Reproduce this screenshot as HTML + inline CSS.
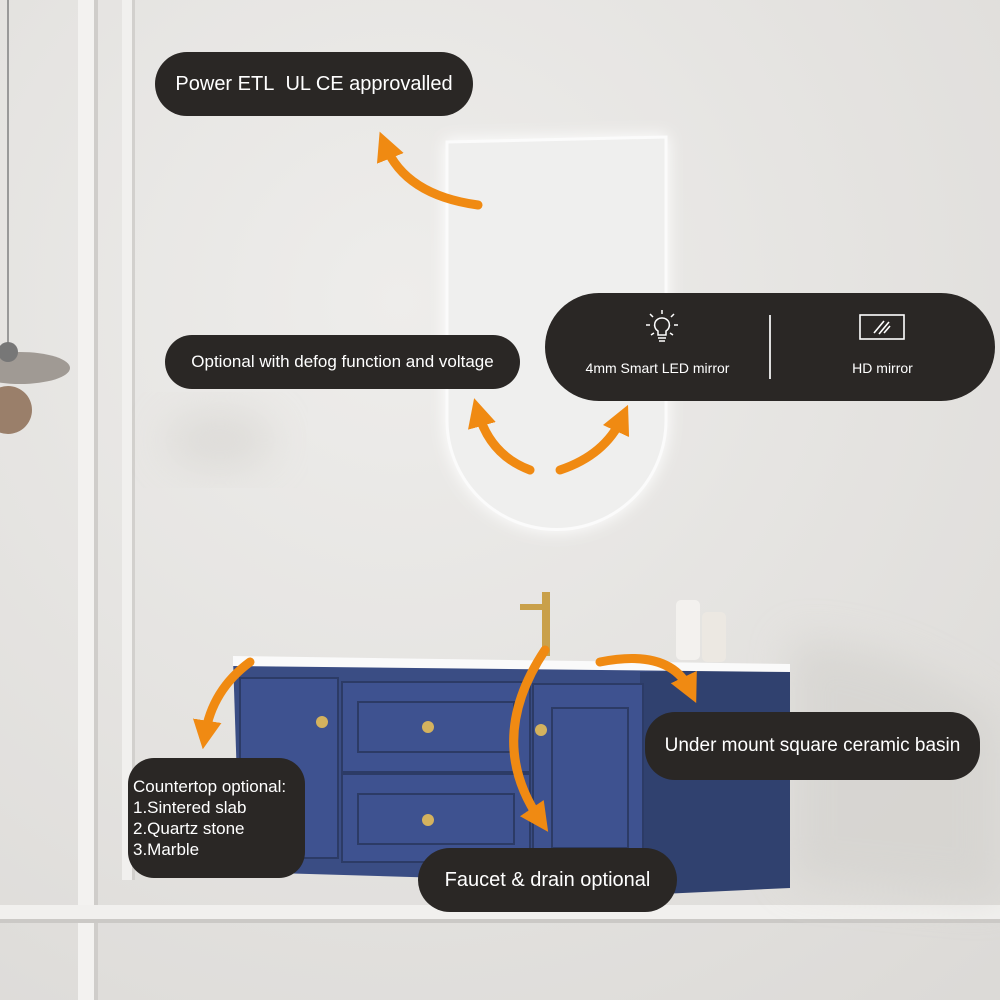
<!DOCTYPE html>
<html><head><meta charset="utf-8"><style>
html,body{margin:0;padding:0;}
body{width:1000px;height:1000px;position:relative;overflow:hidden;background:#e6e5e3;font-family:"Liberation Sans",sans-serif;}
svg{position:absolute;left:0;top:0;}
.p{position:absolute;background:#2a2725;color:#fff;display:flex;align-items:center;justify-content:center;font-family:"Liberation Sans",sans-serif;white-space:nowrap;}
</style></head><body>
<svg width="1000" height="1000" viewBox="0 0 1000 1000">
<defs>
<radialGradient id="wall" cx="0.4" cy="0.3" r="0.9"><stop offset="0" stop-color="#eeedeb"/><stop offset="1" stop-color="#dcdad7"/></radialGradient>
<filter id="glow" x="-20%" y="-20%" width="140%" height="140%"><feGaussianBlur stdDeviation="8"/></filter>
<filter id="soft" x="-30%" y="-30%" width="160%" height="160%"><feGaussianBlur stdDeviation="20"/></filter>
<marker id="ah" viewBox="0 0 10 10" refX="5" refY="5" markerWidth="3.2" markerHeight="3.2" orient="auto-start-reverse"><path d="M0,0 L10,5 L0,10 Z" fill="#f08a12"/></marker>
</defs>
<rect width="1000" height="1000" fill="url(#wall)"/>
<!-- wall moulding -->
<rect x="78" y="0" width="16" height="1000" fill="#f3f2f0"/>
<rect x="94" y="0" width="4" height="1000" fill="#cfcdca"/>
<rect x="122" y="0" width="10" height="880" fill="#f1f0ee"/>
<rect x="132" y="0" width="3" height="880" fill="#d2d0cd"/>
<rect x="0" y="905" width="1000" height="14" fill="#f1f0ee"/>
<rect x="0" y="919" width="1000" height="4" fill="#cbc9c6"/>
<!-- pendant lamp -->
<line x1="8" y1="0" x2="8" y2="345" stroke="#999" stroke-width="2"/>
<ellipse cx="20" cy="368" rx="50" ry="16" fill="#a09a94"/>
<circle cx="8" cy="410" r="24" fill="#9a7f6a"/>
<circle cx="8" cy="352" r="10" fill="#777"/>
<!-- shadows -->
<ellipse cx="220" cy="440" rx="55" ry="30" fill="#d3d0cc" opacity="0.5" filter="url(#soft)"/>
<path d="M790,640 Q900,640 1000,720 L1000,900 L790,880 Z" fill="#d2d0cc" opacity="0.6" filter="url(#soft)"/>
<!-- mirror -->
<path d="M445,140 L668,135 L668,420 A111,111 0 0 1 445,420 Z" fill="#fff" filter="url(#glow)"/>
<path d="M447,142 L666,137 L666,420 A109,109 0 0 1 447,420 Z" fill="#efefee" stroke="#fbfbfb" stroke-width="3"/>
<!-- bottles -->
<rect x="676" y="600" width="24" height="60" rx="5" fill="#f3f1ee"/>
<rect x="702" y="612" width="24" height="50" rx="5" fill="#ece8e2"/>
<!-- faucet -->
<rect x="542" y="592" width="8" height="64" fill="#c9a04a"/>
<rect x="520" y="604" width="26" height="6" fill="#c9a04a"/>
<!-- vanity -->
<path d="M233,658 L790,668 L790,888 L240,872 Z" fill="#3a4d84"/>
<path d="M640,672 L790,668 L790,888 L640,895 Z" fill="#30416f"/>
<path d="M233,656 L790,664 L790,672 L233,666 Z" fill="#fafafa"/>
<rect x="240" y="678" width="98" height="180" fill="#3e5290" stroke="#2c3b66" stroke-width="2"/>
<rect x="342" y="682" width="188" height="90" fill="#3e5290" stroke="#2c3b66" stroke-width="2"/>
<rect x="358" y="702" width="156" height="50" fill="none" stroke="#2c3b66" stroke-width="2"/>
<rect x="342" y="774" width="188" height="88" fill="#3e5290" stroke="#2c3b66" stroke-width="2"/>
<rect x="358" y="794" width="156" height="50" fill="none" stroke="#2c3b66" stroke-width="2"/>
<rect x="533" y="684" width="110" height="180" fill="#3e5290" stroke="#2c3b66" stroke-width="2"/>
<rect x="552" y="708" width="76" height="140" fill="none" stroke="#2c3b66" stroke-width="2"/>
<circle cx="322" cy="722" r="6" fill="#d4b25e"/><circle cx="428" cy="727" r="6" fill="#d4b25e"/>
<circle cx="428" cy="820" r="6" fill="#d4b25e"/><circle cx="541" cy="730" r="6" fill="#d4b25e"/>
<!-- arrows -->
<g fill="none" stroke="#f08a12" stroke-width="9" stroke-linecap="round">
<path d="M478,205 Q405,195 385,145" marker-end="url(#ah)"/>
<path d="M530,470 Q490,455 478,412" marker-end="url(#ah)"/>
<path d="M560,470 Q605,455 622,418" marker-end="url(#ah)"/>
<path d="M250,662 Q212,690 205,735" marker-end="url(#ah)"/>
<path d="M545,650 Q485,740 540,820" marker-end="url(#ah)"/>
<path d="M600,662 Q670,648 690,690" marker-end="url(#ah)"/>
</g>
</svg>
<div class="p" style="left:155px;top:52px;width:318px;height:64px;border-radius:32px;font-size:20px;">Power ETL&nbsp; UL CE approvalled</div>
<div class="p" style="left:165px;top:335px;width:355px;height:54px;border-radius:27px;font-size:17px;">Optional with defog function and voltage</div>
<div class="p" style="left:545px;top:293px;width:450px;height:108px;border-radius:54px;justify-content:flex-start;">
  <div style="position:absolute;left:0;width:225px;top:0;height:108px;text-align:center;">
    <svg style="position:absolute;left:100px;top:16px" width="34" height="36" viewBox="0 0 34 36" fill="none" stroke="#fff" stroke-width="1.5">
      <path d="M17,9 a7,7 0 0 1 4,13 v4 h-8 v-4 a7,7 0 0 1 4,-13 Z"/><path d="M13,29 h8 M14,32 h6"/>
      <path d="M17,1 v4 M5,5 l3,3 M29,5 l-3,3 M1,16 h4 M29,16 h4 M6,26 l3,-2 M28,26 l-3,-2"/>
    </svg>
    <div style="position:absolute;top:67px;width:100%;font-size:14px;">4mm Smart LED mirror</div>
  </div>
  <div style="position:absolute;left:224px;top:22px;width:2px;height:64px;background:#ddd;"></div>
  <div style="position:absolute;left:225px;width:225px;top:0;height:108px;text-align:center;">
    <svg style="position:absolute;left:88px;top:20px" width="48" height="28" viewBox="0 0 48 28" fill="none" stroke="#fff" stroke-width="1.6">
      <rect x="2" y="2" width="44" height="24"/><path d="M16,20 l10,-12 M21,21 l10,-12 M26,20 l6,-7"/>
    </svg>
    <div style="position:absolute;top:67px;width:100%;font-size:14px;">HD mirror</div>
  </div>
</div>
<div class="p" style="left:645px;top:712px;width:335px;height:68px;border-radius:30px;font-size:19px;">Under mount square ceramic basin</div>
<div class="p" style="left:128px;top:758px;width:177px;height:120px;border-radius:26px;font-size:17px;line-height:21px;justify-content:flex-start;align-items:center;padding-left:5px;box-sizing:border-box;"><div>Countertop optional:<br>1.Sintered slab<br>2.Quartz stone<br>3.Marble</div></div>
<div class="p" style="left:418px;top:848px;width:259px;height:64px;border-radius:32px;font-size:20px;">Faucet &amp; drain optional</div>
</body></html>
